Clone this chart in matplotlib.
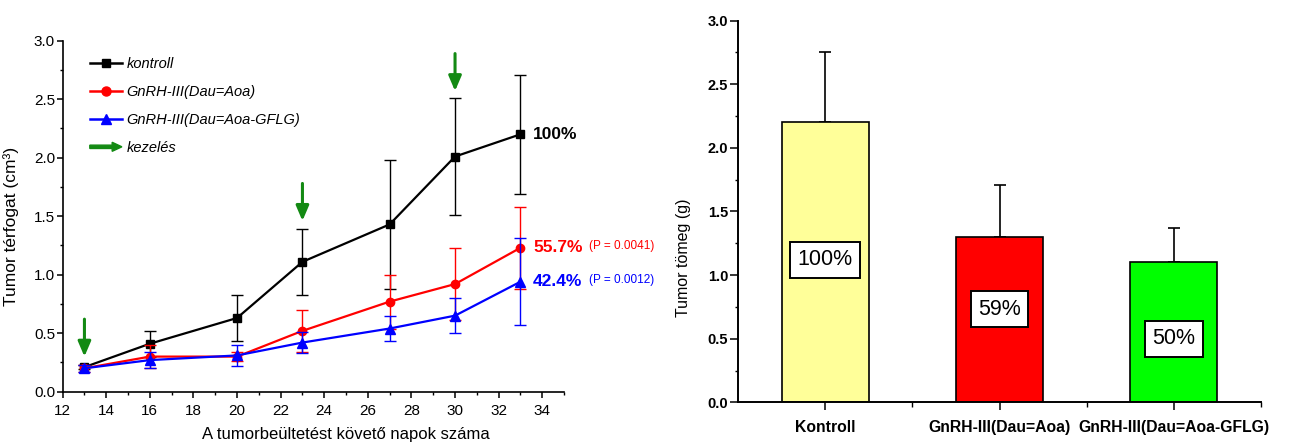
import matplotlib
matplotlib.use("Agg")
import matplotlib.pyplot as plt
import matplotlib.patches as mpatches
from matplotlib.lines import Line2D
from matplotlib.legend_handler import HandlerPatch
from matplotlib.ticker import MultipleLocator, FixedLocator
import numpy as np

plt.rcParams['font.family'] = ['Liberation Sans', 'DejaVu Sans']

# ---------------- data: left chart (tumour volume) ----------------
days = [13, 16, 20, 23, 27, 30, 33]
ctrl_mean = [0.21, 0.41, 0.63, 1.11, 1.43, 2.01, 2.20]
ctrl_err = [0.02, 0.11, 0.20, 0.28, 0.55, 0.50, 0.51]
dau_mean = [0.20, 0.30, 0.30, 0.52, 0.77, 0.92, 1.23]
dau_err = [0.03, 0.10, 0.04, 0.18, 0.23, 0.31, 0.35]
gflg_mean = [0.20, 0.27, 0.31, 0.42, 0.54, 0.65, 0.94]
gflg_err = [0.03, 0.07, 0.09, 0.09, 0.11, 0.15, 0.37]
series_labels = ['kontroll', 'GnRH-III(Dau=Aoa)', 'GnRH-III(Dau=Aoa-GFLG)']
arrow_label = 'kezelés'
treat_days = [13, 23, 30]
treat_arrow_top = [0.62, 1.78, 2.89]
treat_arrow_tip = [0.30, 1.46, 2.57]
end_pct = ['100%', '55.7%', '42.4%']
end_p = ['', '(P = 0.0041)', '(P = 0.0012)']
left_xlabel = 'A tumorbeültetést követő napok száma'
left_ylabel = 'Tumor térfogat (cm³)'

# ---------------- data: right chart (tumour weight) ----------------
bar_cats = ['Kontroll', 'GnRH-III(Dau=Aoa)', 'GnRH-III(Dau=Aoa-GFLG)']
bar_mean = [2.20, 1.30, 1.10]
bar_err = [0.55, 0.41, 0.27]
bar_pct = ['100%', '59%', '50%']
bar_pct_y = [1.12, 0.73, 0.50]
right_ylabel = 'Tumor tömeg (g)'

GREEN = '#138a13'
colors = ['black', '#ff0000', '#0000ff']
markers = ['s', 'o', '^']
msizes = [5.5, 6.0, 7.0]
bar_colors = ['#ffff99', '#ff0000', '#00ff00']

fig = plt.figure(figsize=(13.16, 4.44), dpi=100)
ax1 = fig.add_axes([0.0476, 0.1178, 0.3810, 0.7905])
ax2 = fig.add_axes([0.5608, 0.0939, 0.3974, 0.8595])

# ---------------- left chart ----------------
means = [ctrl_mean, dau_mean, gflg_mean]
errs = [ctrl_err, dau_err, gflg_err]
handles = []
for i in range(3):
    ax1.errorbar(days, means[i], yerr=errs[i], color=colors[i], lw=1.6,
                 elinewidth=1.0, capsize=4.5, capthick=1.0,
                 marker=markers[i], ms=msizes[i], zorder=3 + i)
    handles.append(Line2D([], [], color=colors[i], lw=1.8, marker=markers[i],
                          ms=msizes[i] + 0.5))

for d, t0, t1 in zip(treat_days, treat_arrow_top, treat_arrow_tip):
    ax1.annotate('', xy=(d, t1), xytext=(d, t0),
                 arrowprops=dict(arrowstyle=mpatches.ArrowStyle('-|>', head_length=0.75, head_width=0.32),
                                 color=GREEN, lw=2.2, mutation_scale=12,
                                 shrinkA=0, shrinkB=0), zorder=10)

for i in range(3):
    t = ax1.annotate(end_pct[i], xy=(days[-1], means[i][-1]), xytext=(9, 0),
                     textcoords='offset points', ha='left', va='center',
                     fontsize=12.5, fontweight='bold', color=colors[i])
    if end_p[i]:
        ax1.annotate(end_p[i], xy=(1, 0.5), xycoords=t, xytext=(5, 1),
                     textcoords='offset points', ha='left', va='center',
                     fontsize=8.5, color=colors[i])

arrow_handle = mpatches.FancyArrow(0, 0, 1, 0, color=GREEN)


def make_arrow(legend, orig_handle, xdescent, ydescent, width, height, fontsize):
    return mpatches.FancyArrow(-xdescent, -ydescent + height / 2, width, 0,
                               width=2.4, head_width=6.5, head_length=7,
                               length_includes_head=True, color=GREEN)


leg = ax1.legend(handles + [arrow_handle], series_labels + [arrow_label],
                 loc='upper left', bbox_to_anchor=(0.028, 0.99), frameon=False,
                 handlelength=2.2, handletextpad=0.3, labelspacing=0.95,
                 prop={'size': 10.5, 'style': 'italic'},
                 handler_map={mpatches.FancyArrow: HandlerPatch(patch_func=make_arrow)})

ax1.set_xlim(12, 35)
ax1.set_ylim(0, 3.0)
ax1.xaxis.set_major_locator(FixedLocator(np.arange(12, 35, 2)))
ax1.xaxis.set_minor_locator(MultipleLocator(1))
ax1.yaxis.set_major_locator(MultipleLocator(0.5))
ax1.yaxis.set_minor_locator(MultipleLocator(0.25))
ax1.yaxis.set_major_formatter(matplotlib.ticker.FormatStrFormatter('%.1f'))
for s in ['top', 'right']:
    ax1.spines[s].set_visible(False)
for s in ['left', 'bottom']:
    ax1.spines[s].set_linewidth(1.2)
ax1.tick_params(which='major', length=4.5, width=1.1, labelsize=11, direction='out')
ax1.tick_params(which='minor', length=2.5, width=1.0, direction='out')
ax1.tick_params(axis='y', which='major', pad=1)
ax1.tick_params(axis='x', which='major', pad=4)
ax1.set_xlabel(left_xlabel, fontsize=12)
ax1.set_ylabel(left_ylabel, fontsize=12.5)
ax1.xaxis.set_label_coords(0.565, -0.10)
ax1.yaxis.set_label_coords(-0.088, 0.47)

# ---------------- right chart ----------------
xpos = np.arange(len(bar_cats))
ax2.bar(xpos, bar_mean, width=0.5, color=bar_colors, edgecolor='black', lw=1.2, zorder=2)
ax2.errorbar(xpos, bar_mean, yerr=[np.zeros(len(bar_err)), bar_err], fmt='none',
             ecolor='black', elinewidth=1.2, capsize=4.5, capthick=1.2, zorder=1)
for x, y, lab in zip(xpos, bar_pct_y, bar_pct):
    ax2.text(x, y, lab, ha='center', va='center', fontsize=15.5, zorder=5,
             bbox=dict(boxstyle='square,pad=0.35', fc='white', ec='black', lw=1.4))

ax2.set_xlim(-0.5, 2.5)
ax2.set_ylim(0, 3.0)
ax2.set_xticks(xpos)
ax2.set_xticklabels(bar_cats, fontsize=11.3, fontweight='bold')
ax2.xaxis.set_minor_locator(FixedLocator([0.5, 1.5, 2.5]))
ax2.yaxis.set_major_locator(MultipleLocator(0.5))
ax2.yaxis.set_minor_locator(MultipleLocator(0.25))
ax2.yaxis.set_major_formatter(matplotlib.ticker.FormatStrFormatter('%.1f'))
for s in ['top', 'right']:
    ax2.spines[s].set_visible(False)
for s in ['left', 'bottom']:
    ax2.spines[s].set_linewidth(1.4)
ax2.tick_params(axis='y', which='major', length=6, width=1.1, labelsize=10.5, pad=1)
ax2.tick_params(axis='y', which='minor', length=2.5, width=1.0)
ax2.tick_params(axis='x', which='major', length=5.5, width=1.1, pad=7)
ax2.tick_params(axis='x', which='minor', length=3.5, width=1.0)
for lbl in ax2.get_yticklabels():
    lbl.set_fontweight('bold')
ax2.set_ylabel(right_ylabel, fontsize=11.5)
ax2.yaxis.set_label_coords(-0.09, 0.38)

fig.savefig('out.png', dpi=100)
